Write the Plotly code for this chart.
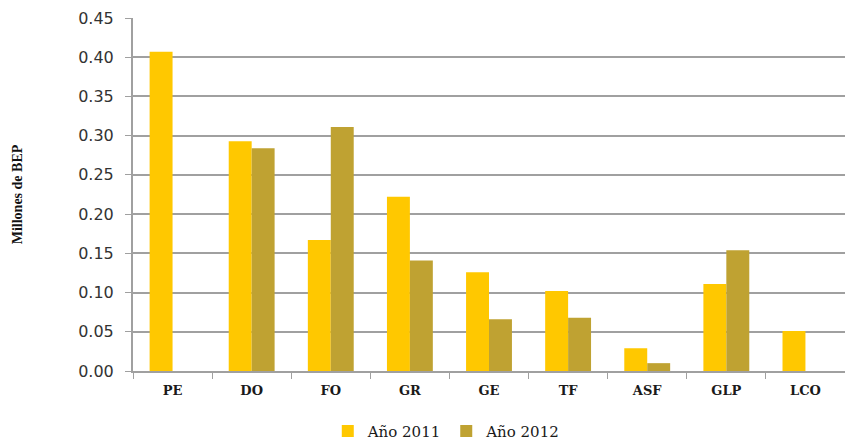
import plotly.graph_objects as go

categories = ["PE", "DO", "FO", "GR", "GE", "TF", "ASF", "GLP", "LCO"]
values_2011 = [0.407, 0.293, 0.167, 0.222, 0.126, 0.102, 0.029, 0.111, 0.051]
values_2012 = [0.0, 0.284, 0.311, 0.141, 0.066, 0.068, 0.010, 0.154, 0.0]
y_ticks = [0.0, 0.05, 0.10, 0.15, 0.20, 0.25, 0.30, 0.35, 0.40, 0.45]

fig = go.Figure()
fig.add_trace(go.Bar(name="Año 2011", x=categories, y=values_2011,
                     marker=dict(color="#FFC800", line=dict(width=0))))
fig.add_trace(go.Bar(name="Año 2012", x=categories, y=values_2012,
                     marker=dict(color="#BFA232", line=dict(width=0))))

fig.update_layout(
    width=845, height=440,
    margin=dict(l=133, r=0, t=18, b=69),
    paper_bgcolor="white", plot_bgcolor="white",
    barmode="group", bargap=0.42, bargroupgap=0,
    showlegend=True,
    legend=dict(orientation="h", x=0.44, xanchor="center",
                yref="container", y=0.02, yanchor="middle",
                font=dict(family="DejaVu Serif", size=15, color="#1a1a1a"),
                itemwidth=30, itemsizing="constant"),
    font=dict(family="DejaVu Sans", color="#333333"),
)
fig.update_xaxes(
    type="category", showline=True, linecolor="#A0A0A0", linewidth=2,
    ticks="outside", tickson="boundaries", ticklen=6, tickcolor="#A0A0A0", tickwidth=1,
    tickfont=dict(family="DejaVu Serif", size=13, color="#1a1a1a", weight="bold"),
    ticklabelstandoff=6,
    showgrid=False,
)
fig.update_yaxes(
    range=[0, 0.45], tickvals=y_ticks, tickformat=".2f",
    showline=True, linecolor="#A0A0A0", linewidth=2,
    ticks="outside", ticklen=6, tickcolor="#A0A0A0",
    ticklabelstandoff=8,
    showgrid=True, gridcolor="#A0A0A0", gridwidth=1.5,
    tickfont=dict(family="DejaVu Sans", size=16, color="#333333"),
    title=dict(text="Millones de BEP", standoff=52,
               font=dict(family="Liberation Serif", size=14, color="#111111", weight="bold")),
    zeroline=False,
)

fig.write_html("out.html", config={"displayModeBar": False},
               post_script="document.body.style.margin='0';document.body.style.overflow='hidden';")
